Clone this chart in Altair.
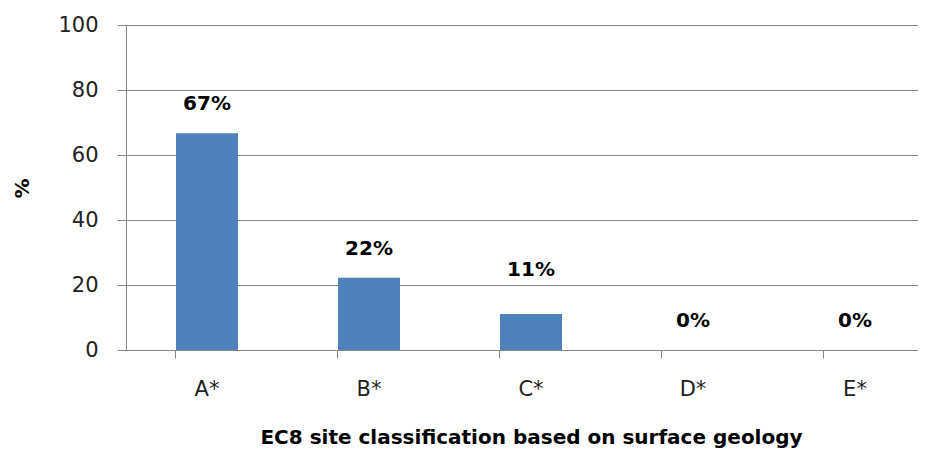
import altair as alt
import pandas as pd

categories = ["A*", "B*", "C*", "D*", "E*"]
values = [66.67, 22.22, 11.11, 0, 0]

df = pd.DataFrame({"cat": categories, "value": values})

FONT = "DejaVu Sans"
GRAY = "#868686"

base = alt.Chart(df)

bars = base.mark_bar(color="#4F81BD", size=62).encode(
    x=alt.X(
        "cat:N",
        sort=categories,
        scale=alt.Scale(range=[0, 810], paddingInner=0.617, paddingOuter=0.3085),
        axis=alt.Axis(
            title="EC8 site classification based on surface geology",
            titleFont=FONT, titleFontSize=20, titleFontWeight="bold", titleColor="#000000",
            titleX=405, titleY=87, titleBaseline="middle", titleAlign="center",
            labelFont=FONT, labelFontSize=21, labelColor="#222222", labelAngle=0,
            labelPadding=20, labelBaseline="top",
            tickSize=8, tickColor=GRAY, domainColor=GRAY, bandPosition=0,
            grid=False,
        ),
    ),
    y=alt.Y(
        "value:Q",
        scale=alt.Scale(domain=[0, 100], nice=False),
        axis=alt.Axis(
            title="%", titleFont=FONT, titleFontSize=20, titleFontWeight="bold",
            titleColor="#000000", titleX=-104, titleY=163, titleAngle=270,
            titleBaseline="middle", titleAlign="center",
            values=[0, 20, 40, 60, 80, 100],
            labelFont=FONT, labelFontSize=21, labelColor="#222222",
            labelPadding=19, tickSize=9, tickColor=GRAY, domainColor=GRAY,
            gridColor=GRAY, gridWidth=1, gridOpacity=1,
        ),
    ),
)

label_base = base.transform_calculate(
    label="format(datum.value, '.0f') + '%'"
)

labels_main = label_base.transform_filter("datum.cat !== 'C*'").mark_text(
    font=FONT, fontSize=20, fontWeight="bold", color="#000000", baseline="middle", dy=-29
).encode(
    x=alt.X("cat:N", sort=categories),
    y=alt.Y("value:Q"),
    text="label:N",
)

labels_c = label_base.transform_filter("datum.cat === 'C*'").mark_text(
    font=FONT, fontSize=20, fontWeight="bold", color="#000000", baseline="middle", dy=-44
).encode(
    x=alt.X("cat:N", sort=categories),
    y=alt.Y("value:Q"),
    text="label:N",
)

chart = (bars + labels_main + labels_c).properties(
    width=792,
    height=325,
    autosize=alt.AutoSizeParams(type="none"),
    padding={"left": 118, "top": 17, "right": 0, "bottom": 101},
).configure_view(stroke=None).configure(background="white")

chart.save("out.html", embed_options={"renderer": "svg", "actions": False})
